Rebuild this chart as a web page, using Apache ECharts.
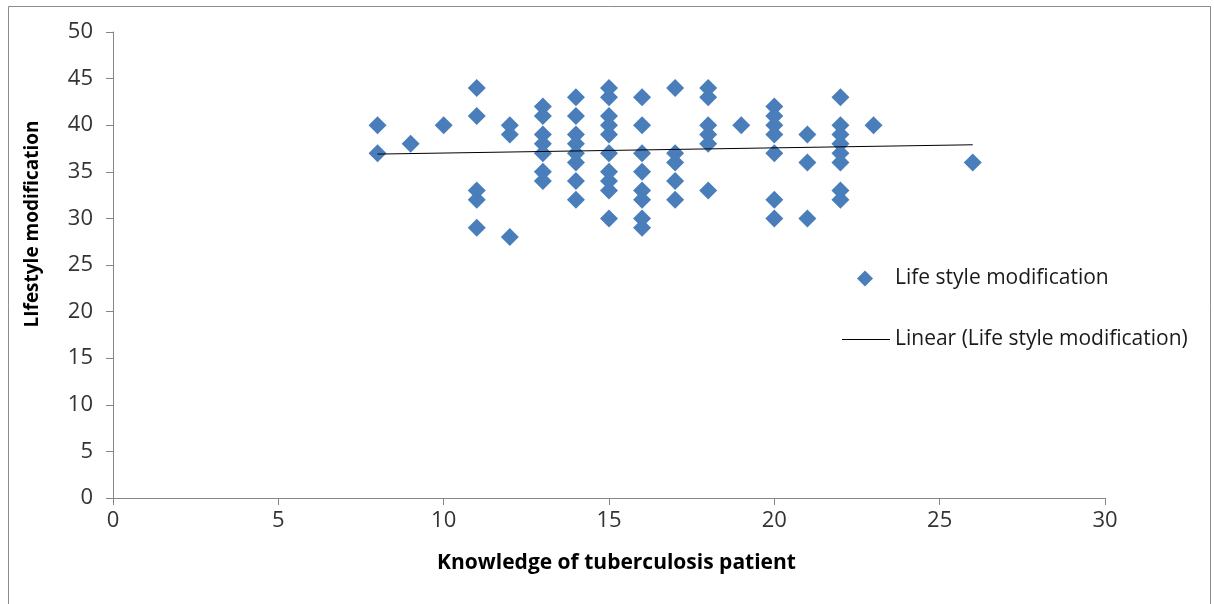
<!DOCTYPE html>
<html><head><meta charset="utf-8">
<script src="https://cdn.jsdelivr.net/npm/echarts@6/dist/echarts.min.js"></script>
<style>html,body{margin:0;padding:0;background:#fff}#c{width:1214px;height:604px}</style>
</head><body><div id="c"></div>
<script>
// Knowledge score (x) and Lifestyle modification score (y)
const knowledge = [
  8, 8,
  9,
  10,
  11, 11, 11, 11, 11,
  12, 12, 12,
  13, 13, 13, 13, 13, 13, 13,
  14, 14, 14, 14, 14, 14, 14, 14,
  15, 15, 15, 15, 15, 15, 15, 15, 15, 15,
  16, 16, 16, 16, 16, 16, 16, 16,
  17, 17, 17, 17, 17,
  18, 18, 18, 18, 18, 18,
  19,
  20, 20, 20, 20, 20, 20, 20,
  21, 21, 21,
  22, 22, 22, 22, 22, 22, 22, 22,
  23,
  26
];
const lifestyle = [
  40, 37,
  38,
  40,
  44, 41, 33, 32, 29,
  40, 39, 28,
  42, 41, 39, 38, 37, 35, 34,
  43, 41, 39, 38, 37, 36, 34, 32,
  44, 43, 41, 40, 39, 37, 35, 34, 33, 30,
  43, 40, 37, 35, 33, 32, 30, 29,
  44, 37, 36, 34, 32,
  44, 43, 40, 39, 38, 33,
  40,
  42, 41, 40, 39, 37, 32, 30,
  39, 36, 30,
  43, 40, 39, 38, 37, 36, 33, 32,
  40,
  36
];
// linear trendline end points
const trendX = [8, 26];
const trendY = [36.9, 37.9];

const seriesName = 'Life style modification';
const trendName = 'Linear (Life style modification)';
const xTitle = 'Knowledge of tuberculosis patient';
const yTitle = 'LIfestyle modification';

const pts = knowledge.map((x, i) => [x, lifestyle[i]]);
const trend = trendX.map((x, i) => [x, trendY[i]]);
const font = '"Open Sans", "Liberation Sans", sans-serif';
const chart = echarts.init(document.getElementById('c'), null, {renderer: 'canvas'});
chart.setOption({
  animation: false,
  backgroundColor: '#fff',
  graphic: [{type: 'rect', shape: {x: 8.5, y: 6.5, width: 1202, height: 620}, style: {fill: 'none', stroke: '#8c8c8c', lineWidth: 1}, silent: true}],
  grid: {left: 113, right: 109, top: 32, bottom: 106},
  legend: [
    {data: [seriesName], orient: 'vertical', left: 857, top: 268, padding: 0, itemWidth: 16, itemHeight: 16,
     textStyle: {fontFamily: font, fontSize: 21, color: '#1a1a1a', padding: [0, 0, 0, 17]}},
    {data: [{name: trendName, icon: 'rect'}], orient: 'vertical', left: 842, top: 329, padding: 0, itemWidth: 48, itemHeight: 1,
     textStyle: {fontFamily: font, fontSize: 21, color: '#1a1a1a'}}
  ],
  xAxis: {
    type: 'value', min: 0, max: 30, interval: 5,
    name: xTitle, nameLocation: 'middle', nameGap: 55,
    nameTextStyle: {fontFamily: font, fontSize: 21, fontWeight: 'bold', color: '#000', padding: [0, 0, 0, 15]},
    axisLine: {show: true, lineStyle: {color: '#868686'}},
    axisTick: {show: true, inside: false, length: 7, lineStyle: {color: '#868686'}},
    axisLabel: {fontFamily: font, fontSize: 22, color: '#333', margin: 12},
    splitLine: {show: false}
  },
  yAxis: {
    type: 'value', min: 0, max: 50, interval: 5,
    name: yTitle, nameLocation: 'middle', nameGap: 71,
    nameTextStyle: {fontFamily: font, fontSize: 19, fontWeight: 'bold', color: '#000', padding: [0, 0, 0, 82]},
    axisLine: {show: true, lineStyle: {color: '#868686'}},
    axisTick: {show: true, inside: false, length: 7, lineStyle: {color: '#868686'}},
    axisLabel: {fontFamily: font, fontSize: 22, color: '#333', margin: 20},
    splitLine: {show: false}
  },
  series: [
    {name: seriesName, type: 'scatter', symbol: 'diamond', symbolSize: 18, data: pts,
     itemStyle: {color: '#4A7EBB', opacity: 1}, z: 2},
    {name: trendName, type: 'line', data: trend, showSymbol: false, symbol: 'none',
     lineStyle: {color: '#000', width: 1}, itemStyle: {color: '#000'}, z: 3}
  ]
});
</script></body></html>
